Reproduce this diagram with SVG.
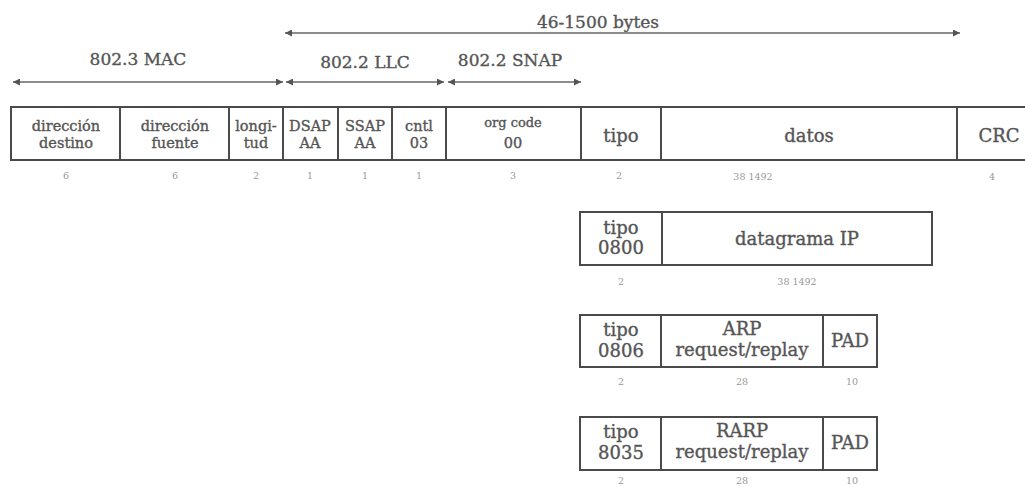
<svg xmlns="http://www.w3.org/2000/svg" width="1025" height="487" viewBox="0 0 1025 487">
<defs>
<style>
.bg{fill:#fff}
.box{fill:#fff;stroke:#4a4a4a;stroke-width:2}
.div{stroke:#4a4a4a;stroke-width:2}
.t{font-family:"DejaVu Serif","Liberation Serif",serif;fill:#555;stroke:#555;stroke-width:0.35;text-anchor:middle}
.s14{font-size:14.5px}
.s13{font-size:13px}
.s18{font-size:18px}
.s17{font-size:17px}
.n{font-family:"DejaVu Serif","Liberation Serif",serif;font-size:9.5px;fill:#999;text-anchor:middle}
.arr{stroke:#666;stroke-width:1.4;fill:none;marker-start:url(#ah);marker-end:url(#ah)}
</style>
<marker id="ah" viewBox="0 0 10 10" refX="10" refY="5" markerWidth="10" markerHeight="7" markerUnits="userSpaceOnUse" orient="auto-start-reverse">
<path d="M0,0 L10,5 L0,10 z" fill="#555"/>
</marker>
</defs>
<rect class="bg" x="0" y="0" width="1025" height="487"/>

<g id="connectors">
<line class="arr" x1="285" y1="33" x2="960" y2="33"/>
<line class="arr" x1="13" y1="82" x2="283" y2="82"/>
<line class="arr" x1="286" y1="82" x2="444" y2="82"/>
<line class="arr" x1="448" y1="82" x2="581" y2="82"/>
</g>

<g id="labels">
<text class="t s17" x="598" y="28">46-1500 bytes</text>
<text class="t s17" x="138" y="65">802.3 MAC</text>
<text class="t s17" x="365" y="68">802.2 LLC</text>
<text class="t s17" x="510" y="66">802.2 SNAP</text>
</g>

<g id="frame-main">
<rect class="box" x="11" y="107" width="1030" height="53"/>
<line class="div" x1="120" y1="107" x2="120" y2="160"/>
<line class="div" x1="229" y1="107" x2="229" y2="160"/>
<line class="div" x1="283" y1="107" x2="283" y2="160"/>
<line class="div" x1="338" y1="107" x2="338" y2="160"/>
<line class="div" x1="392" y1="107" x2="392" y2="160"/>
<line class="div" x1="446" y1="107" x2="446" y2="160"/>
<line class="div" x1="581" y1="107" x2="581" y2="160"/>
<line class="div" x1="661" y1="107" x2="661" y2="160"/>
<line class="div" x1="957" y1="107" x2="957" y2="160"/>
<g id="f-dest"><text class="t s14" x="66" y="131">dirección</text><text class="t s14" x="66" y="148">destino</text><text class="n" x="66" y="179">6</text></g>
<g id="f-src"><text class="t s14" x="175" y="131">dirección</text><text class="t s14" x="175" y="148">fuente</text><text class="n" x="175" y="179">6</text></g>
<g id="f-len"><text class="t s14" x="256" y="131">longi-</text><text class="t s14" x="256" y="148">tud</text><text class="n" x="256" y="179">2</text></g>
<g id="f-dsap"><text class="t s14" x="310" y="131">DSAP</text><text class="t s14" x="310" y="148">AA</text><text class="n" x="310" y="179">1</text></g>
<g id="f-ssap"><text class="t s14" x="365" y="131">SSAP</text><text class="t s14" x="365" y="148">AA</text><text class="n" x="365" y="179">1</text></g>
<g id="f-cntl"><text class="t s14" x="419" y="131">cntl</text><text class="t s14" x="419" y="148">03</text><text class="n" x="419" y="179">1</text></g>
<g id="f-org"><text class="t s13" x="513" y="127">org code</text><text class="t s14" x="513" y="148">00</text><text class="n" x="513" y="179">3</text></g>
<g id="f-tipo"><text class="t s18" x="621" y="142">tipo</text><text class="n" x="619" y="179">2</text></g>
<g id="f-datos"><text class="t s18" x="809" y="142">datos</text><text class="n" x="753" y="180">38 1492</text></g>
<g id="f-crc"><text class="t s18" x="999" y="142">CRC</text><text class="n" x="992" y="180">4</text></g>
</g>

<g id="frame-ip">
<rect class="box" x="580" y="212" width="352" height="53"/>
<line class="div" x1="662" y1="212" x2="662" y2="265"/>
<text class="t s18" x="621" y="234">tipo</text><text class="t s18" x="621" y="254">0800</text>
<text class="t s18" x="797" y="245">datagrama IP</text>
<text class="n" x="621" y="285">2</text><text class="n" x="797" y="285">38 1492</text>
</g>

<g id="frame-arp">
<rect class="box" x="580" y="315" width="297" height="52"/>
<line class="div" x1="661" y1="315" x2="661" y2="367"/>
<line class="div" x1="823" y1="315" x2="823" y2="367"/>
<text class="t s18" x="621" y="336">tipo</text><text class="t s18" x="621" y="357">0806</text>
<text class="t s18" x="742" y="335">ARP</text><text class="t s18" x="742" y="356">request/replay</text>
<text class="t s18" x="850" y="347">PAD</text>
<text class="n" x="621" y="385">2</text><text class="n" x="742" y="385">28</text><text class="n" x="852" y="385">10</text>
</g>

<g id="frame-rarp">
<rect class="box" x="580" y="417" width="297" height="53"/>
<line class="div" x1="661" y1="417" x2="661" y2="470"/>
<line class="div" x1="823" y1="417" x2="823" y2="470"/>
<text class="t s18" x="621" y="438">tipo</text><text class="t s18" x="621" y="459">8035</text>
<text class="t s18" x="742" y="437">RARP</text><text class="t s18" x="742" y="458">request/replay</text>
<text class="t s18" x="850" y="449">PAD</text>
<text class="n" x="621" y="484">2</text><text class="n" x="742" y="484">28</text><text class="n" x="852" y="484">10</text>
</g>
</svg>
